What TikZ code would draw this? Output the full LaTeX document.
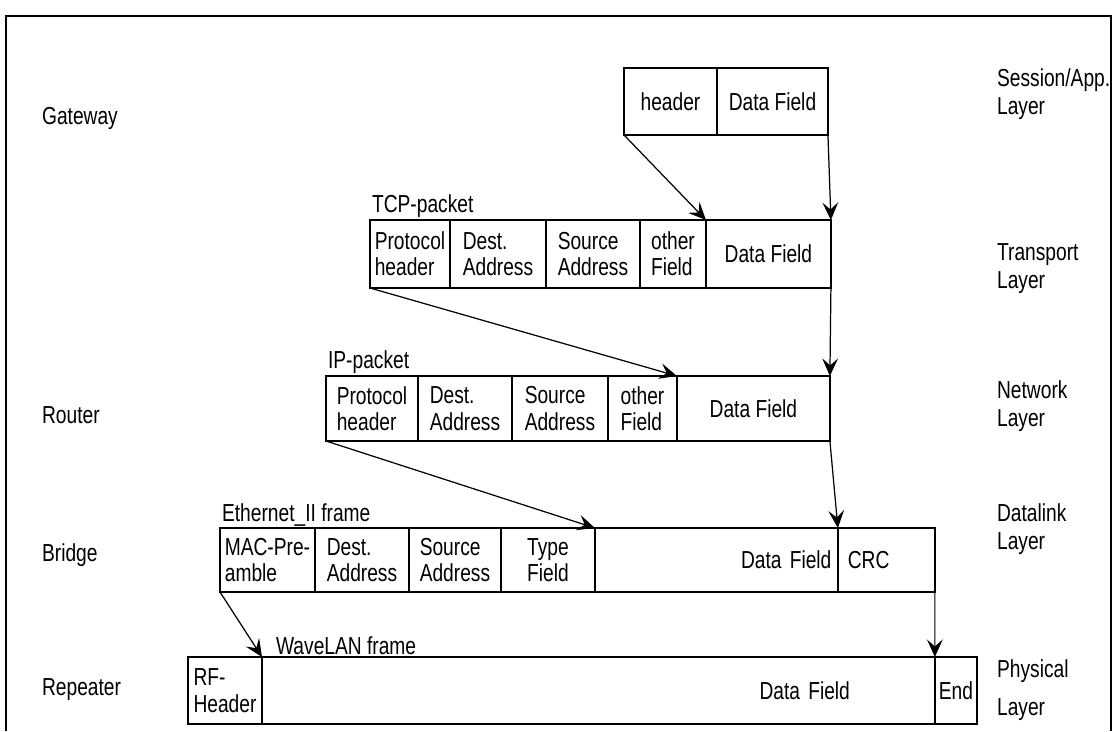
\documentclass[tikz,border=0pt]{standalone}
\usepackage{fontspec}
\setmainfont{Liberation Sans}[FakeStretch=0.78]
\usetikzlibrary{arrows.meta,positioning}

\begin{document}
\begin{tikzpicture}[x=0.02cm, y=-0.02cm,
    cell/.style={draw, line width=0.9pt, outer sep=0pt, inner xsep=0.06cm, inner ysep=0pt,
                 minimum height=1.34cm, align=left, font=\fontsize{14}{15}\selectfont},
    lbl/.style={inner sep=1pt, align=left, font=\fontsize{14}{16}\selectfont},
    arr/.style={-{Stealth[length=10pt, width=9pt, inset=4pt]}, line width=0.7pt}
]
\useasboundingbox (0,0) rectangle (1114,731);
\draw[line width=1.4pt] (6,731) -- (6,16) -- (1111,16) -- (1111,731);

% session / application layer
\node[cell, minimum width=1.86cm, anchor=north west] (shdr) at (624,68) {header};
\node[cell, minimum width=2.22cm, right=0pt of shdr] (sdata) {Data Field};

% TCP packet
\node[cell, minimum width=1.6cm, minimum height=1.36cm, anchor=north west] (tcpproto) at (370,220) {Protocol\\header};
\node[cell, minimum width=1.92cm, minimum height=1.36cm, right=0pt of tcpproto] (tcpdest) {Dest.\\Address};
\node[cell, minimum width=1.88cm, minimum height=1.36cm, right=0pt of tcpdest] (tcpsrc) {Source\\Address};
\node[cell, minimum width=1.32cm, minimum height=1.36cm, right=0pt of tcpsrc] (tcpother) {other\\Field};
\node[cell, minimum width=2.5cm, minimum height=1.36cm, right=0pt of tcpother] (tcpdata) {Data Field};
\node[lbl, above right=0pt and 0pt of tcpproto.north west] (tcplbl) {TCP-packet};

% IP packet
\node[cell, minimum width=1.84cm, minimum height=1.3cm, anchor=north west] (ipproto) at (326,376) {Protocol\\header};
\node[cell, minimum width=1.88cm, minimum height=1.3cm, right=0pt of ipproto] (ipdest) {Dest.\\Address};
\node[cell, minimum width=1.92cm, minimum height=1.3cm, right=0pt of ipdest] (ipsrc) {Source\\Address};
\node[cell, minimum width=1.38cm, minimum height=1.3cm, right=0pt of ipsrc] (ipother) {other\\Field};
\node[cell, minimum width=3.06cm, minimum height=1.3cm, right=0pt of ipother] (ipdata) {Data Field};
\node[lbl, above right=0pt and 0pt of ipproto.north west] (iplbl) {IP-packet};

% Ethernet_II frame
\node[cell, minimum width=1.9cm, minimum height=1.28cm, anchor=north west] (ethmac) at (220,528) {MAC-Pre-\\amble};
\node[cell, minimum width=1.88cm, minimum height=1.28cm, right=0pt of ethmac] (ethdest) {Dest.\\Address};
\node[cell, minimum width=1.84cm, minimum height=1.28cm, right=0pt of ethdest] (ethsrc) {Source\\Address};
\node[cell, minimum width=1.88cm, minimum height=1.28cm, right=0pt of ethsrc] (ethtype) {Type\\Field};
\node[cell, minimum height=1.28cm, inner xsep=0.13cm, text width=4.6cm, align=right, right=0pt of ethtype] (ethdata) {Data Field};
\node[cell, minimum height=1.28cm, inner xsep=0.2cm, text width=1.54cm, right=0pt of ethdata] (ethcrc) {CRC};
\node[lbl, above right=0pt and 0pt of ethmac.north west] (ethlbl) {Ethernet\_II frame};

% WaveLAN frame
\node[cell, minimum width=1.48cm, anchor=north west] (wrf) at (188,657) {RF-\\Header};
\node[cell, inner xsep=1.7cm, text width=10.06cm, align=right, right=0pt of wrf] (wdata) {Data Field};
\node[cell, minimum width=0.84cm, inner xsep=0.02cm, right=0pt of wdata] (wend) {End};
\node[lbl, above right=0pt and 0.24cm of wrf.north east] (wlbl) {WaveLAN frame};

% devices
\node[lbl, anchor=west] (gateway) at (40,118) {Gateway};
\node[lbl, anchor=west] (router) at (40,415) {Router};
\node[lbl, anchor=west] (bridge) at (40,555) {Bridge};
\node[lbl, anchor=west] (repeater) at (40,690) {Repeater};

% layers
\node[lbl, anchor=west] (lsession) at (995,94) {Session/App.\\Layer};
\node[lbl, anchor=west] (ltransport) at (995,269) {Transport\\Layer};
\node[lbl, anchor=west] (lnetwork) at (995,406) {Network\\Layer};
\node[lbl, anchor=west] (ldatalink) at (995,529) {Datalink\\Layer};
\node[lbl, anchor=west] (lphysical) at (995,690) {Physical\\[6pt]Layer};

\draw[arr] (shdr.south west) -- (tcpdata.north west);
\draw[arr] (sdata.south east) -- (tcpdata.north east);
\draw[arr] (tcpproto.south west) -- (ipdata.north west);
\draw[arr] (tcpdata.south east) -- (ipdata.north east);
\draw[arr] (ipproto.south west) -- (ethdata.north west);
\draw[arr] (ipdata.south east) -- (ethdata.north east);
\draw[arr] (ethmac.south west) -- (wdata.north west);
\draw[arr] (ethcrc.south east) -- (wend.north west);
\end{tikzpicture}
\end{document}
